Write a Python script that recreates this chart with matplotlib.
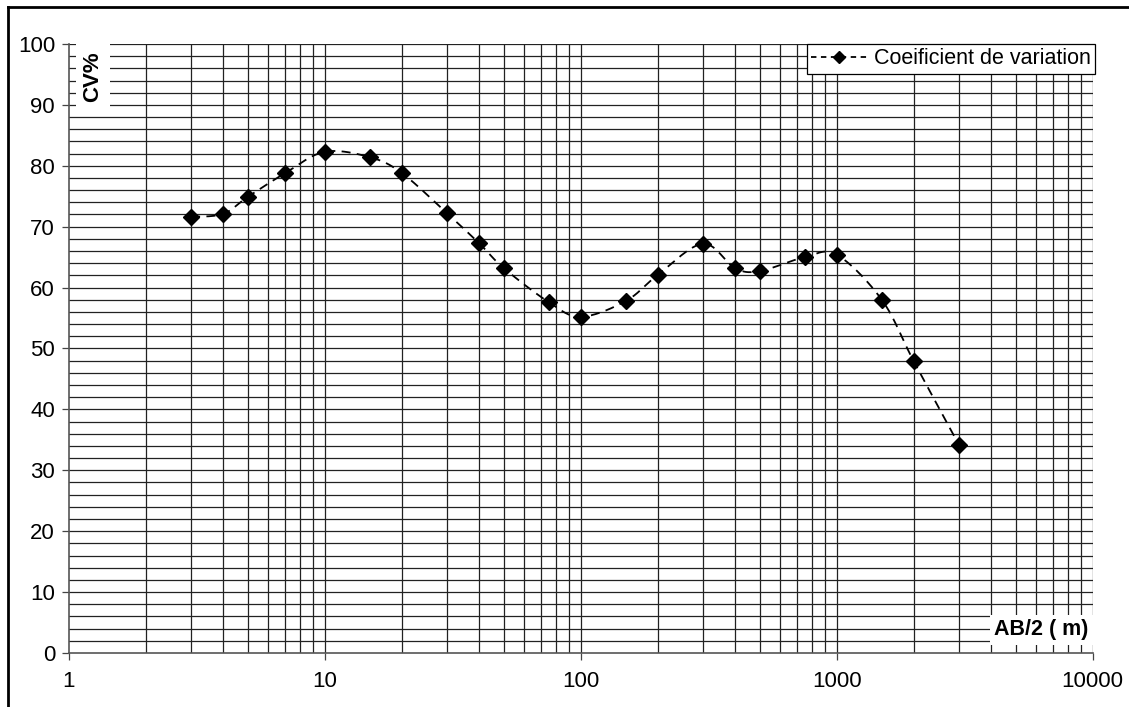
import matplotlib
matplotlib.use("Agg")
import matplotlib.pyplot as plt
from matplotlib.lines import Line2D
import numpy as np

plt.rcParams["font.family"] = ["Liberation Sans", "DejaVu Sans"]

# AB/2 spacing (m) and coefficient of variation (%)
ab2 = [3, 4, 5, 7, 10, 15, 20, 30, 40, 50, 75, 100, 150, 200, 300,
       400, 500, 750, 1000, 1500, 2000, 3000]
cv = [71.6, 72.1, 74.9, 78.8, 82.3, 81.4, 78.8, 72.2, 67.3, 63.2, 57.6,
      55.2, 57.8, 62.1, 67.2, 63.2, 62.7, 65.0, 65.4, 58.0, 47.9, 34.2]

series_label = "Coeificient de variation"
x_ticks = [1, 10, 100, 1000, 10000]
y_ticks = list(range(0, 101, 10))


def smooth(xs, ys, n=30):
    # Catmull-Rom curve through the points (in log-x space)
    px = np.log10(np.asarray(xs, float))
    py = np.asarray(ys, float)
    px = np.concatenate([[px[0]], px, [px[-1]]])
    py = np.concatenate([[py[0]], py, [py[-1]]])
    out_x, out_y = [], []
    t = np.linspace(0, 1, n)
    for i in range(1, len(px) - 2):
        p0, p1, p2, p3 = [np.array([px[j], py[j]]) for j in (i - 1, i, i + 1, i + 2)]
        c1 = p1 + (p2 - p0) / 6
        c2 = p2 - (p3 - p1) / 6
        b = ((1 - t) ** 3)[:, None] * p1 + (3 * (1 - t) ** 2 * t)[:, None] * c1 \
            + (3 * (1 - t) * t ** 2)[:, None] * c2 + (t ** 3)[:, None] * p2
        out_x.extend(b[:, 0])
        out_y.extend(b[:, 1])
    return 10 ** np.array(out_x), np.array(out_y)


fig = plt.figure(figsize=(11.29, 7.07), dpi=100)
ax = fig.add_axes([0.0611, 0.0764, 0.9067, 0.8614])

ax.set_xscale("log")
ax.set_xlim(1, 10000)
ax.set_ylim(0, 100)

# grid: every 2 % horizontally, every 1..9 x decade vertically
for y in range(2, 101, 2):
    ax.axhline(y, color="#222222", lw=0.9, zorder=1)
for dec in [1, 10, 100, 1000]:
    for k in range(1, 10):
        if dec * k > 1:
            ax.axvline(dec * k, color="#222222", lw=0.9, zorder=1)
ax.axvline(10000, color="#222222", lw=0.9, zorder=1)

sx, sy = smooth(ab2, cv)
ax.plot(sx, sy, color="black", lw=1.3, ls=(0, (5, 3.5)), zorder=3)
ax.plot(ab2, cv, ls="none", marker="D", ms=7.8, color="black", zorder=4)

ax.set_xticks(x_ticks)
ax.set_xticklabels([str(v) for v in x_ticks])
ax.xaxis.set_minor_locator(matplotlib.ticker.NullLocator())
ax.set_yticks(y_ticks)
ax.tick_params(axis="both", labelsize=16, direction="out", length=5,
               width=0.9, color="#444444")
ax.tick_params(axis="y", pad=5)
ax.tick_params(axis="x", pad=8)

for s in ["left", "bottom"]:
    ax.spines[s].set_color("#555555")
    ax.spines[s].set_linewidth(1.2)
for s in ["top", "right"]:
    ax.spines[s].set_visible(False)

ax.text(0.0235, 0.947, "CV%", transform=ax.transAxes, rotation=90,
        fontsize=16, fontweight="bold", ha="center", va="center", zorder=5,
        bbox=dict(boxstyle="square,pad=0.3", fc="white", ec="none"))
ax.text(0.950, 0.038, "AB/2 ( m)", transform=ax.transAxes,
        fontsize=15.5, fontweight="bold", ha="center", va="center", zorder=5,
        bbox=dict(boxstyle="square,pad=0.2", fc="white", ec="none"))

handle = Line2D([], [], color="black", lw=1.3, ls=(0, (3, 2.5)),
                marker="D", ms=6.5)
leg = ax.legend([handle], [series_label], loc="upper right",
                bbox_to_anchor=(1.002, 1.0), fontsize=15.5, frameon=True,
                fancybox=False, edgecolor="black", framealpha=1,
                borderpad=0.2, handlelength=2.6, handletextpad=0.3,
                borderaxespad=0)
leg.get_frame().set_linewidth(0.9)
leg.set_zorder(6)

# outer frame on the left and top of the figure
fig.add_artist(Line2D([0.0075, 0.0075], [0, 0.9905], transform=fig.transFigure,
                      color="black", lw=2))
fig.add_artist(Line2D([0.0075, 1.0], [0.9905, 0.9905], transform=fig.transFigure,
                      color="black", lw=2))

fig.savefig("out.png", dpi=100)
